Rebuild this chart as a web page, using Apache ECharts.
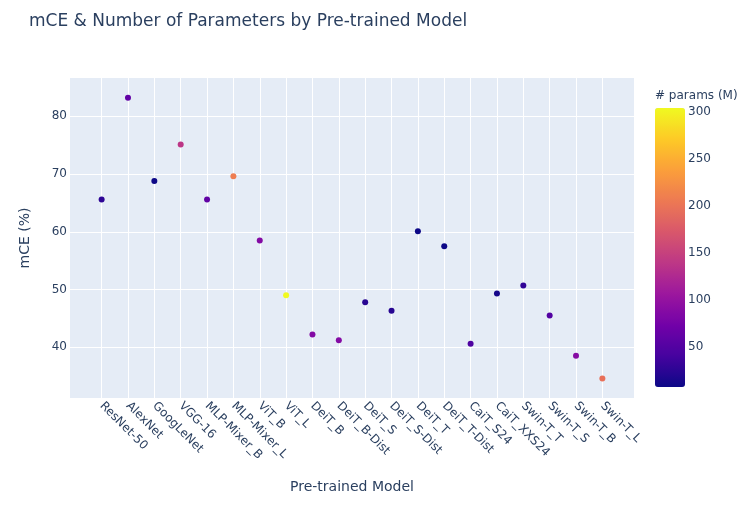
<!DOCTYPE html>
<html>
<head>
<meta charset="utf-8">
<title>mCE & Number of Parameters by Pre-trained Model</title>
<script src="https://cdn.jsdelivr.net/npm/echarts@6/dist/echarts.min.js"></script>
<style>
  html, body { margin: 0; padding: 0; background: #fff; }
  #chart { width: 755px; height: 510px; }
</style>
</head>
<body>
<div id="chart"></div>
<script>
// model names on the x axis
var models = [
  'ResNet-50', 'AlexNet', 'GoogLeNet', 'VGG-16', 'MLP-Mixer_B', 'MLP-Mixer_L',
  'ViT_B', 'ViT_L', 'DeiT_B', 'DeiT_B-Dist', 'DeiT_S', 'DeiT_S-Dist',
  'DeiT_T', 'DeiT_T-Dist', 'CaiT_S24', 'CaiT_XXS24', 'Swin-T_T', 'Swin-T_S',
  'Swin-T_B', 'Swin-T_L'
]
// mCE (%)
var mce = [
  65.6, 83.2, 68.8, 75.1, 65.6, 69.6,
  58.5, 49.0, 42.2, 41.2, 47.8, 46.3,
  60.1, 57.5, 40.6, 49.3, 50.7, 45.5,
  38.5, 34.6
]
// number of parameters (M), colour of each point
var params = [
  25.6, 61.1, 6.8, 138.4, 59.9, 208.2,
  86.6, 304.3, 86.6, 87.3, 22.1, 22.4,
  6.7, 6.9, 46.9, 12.0, 28.3, 49.6,
  87.8, 196.5
]
var yTicks = [40, 50, 60, 70, 80]
var cbTicks = [50, 100, 150, 200, 250, 300]

var textColor = '#2a3f5f'
var font = '"DejaVu Sans", Verdana, sans-serif'
var plasma = ['#0d0887', '#46039f', '#7201a8', '#9c179e', '#bd3786',
              '#d8576b', '#ed7953', '#fb9f3a', '#fdca26', '#f0f921']

var idx = models.map(function (m, i) { return i })
var points = models.map(function (m, i) { return [i, mce[i], params[i], m] })
var pMin = Math.min.apply(null, params)
var pMax = Math.max.apply(null, params)

var chart = echarts.init(document.getElementById('chart'), null, { renderer: 'canvas' })

var option = {
  backgroundColor: '#fff',
  textStyle: { fontFamily: font, color: textColor },
  title: [{
    text: 'mCE & Number of Parameters by Pre-trained Model',
    left: 29,
    top: 13,
    padding: 0,
    textStyle: { fontFamily: font, fontSize: 17, fontWeight: 'normal', color: textColor }
  }, {
    text: '# params (M)',
    left: 655,
    top: 90,
    padding: 0,
    textStyle: { fontFamily: font, fontSize: 12, fontWeight: 'normal', color: textColor }
  }],
  grid: [{
    left: 70, top: 78, width: 564, height: 320,
    show: true, backgroundColor: '#E5ECF6', borderWidth: 0
  }, {
    // helper grid that carries the colorbar ticks
    left: 655, top: 108, width: 30, height: 279,
    show: false
  }],
  xAxis: [{
    type: 'value',
    gridIndex: 0,
    min: -1.2,
    max: 20.2,
    name: 'Pre-trained Model',
    nameLocation: 'middle',
    nameGap: 82,
    nameTextStyle: { fontFamily: font, fontSize: 14, color: textColor },
    axisLine: { show: false },
    axisTick: { show: false, customValues: idx },
    axisLabel: {
      customValues: idx,
      rotate: -45,
      margin: 6,
      fontFamily: font,
      fontSize: 12,
      color: textColor,
      formatter: function (v) { return models[Math.round(v)] }
    },
    splitLine: { show: true, lineStyle: { color: '#fff', width: 1 } }
  }, {
    type: 'value', gridIndex: 1, show: false, min: 0, max: 1
  }],
  yAxis: [{
    type: 'value',
    gridIndex: 0,
    min: 31.2,
    max: 86.64,
    name: 'mCE (%)',
    nameLocation: 'middle',
    nameGap: 38,
    nameTextStyle: { fontFamily: font, fontSize: 14, color: textColor },
    axisLine: { show: false },
    axisTick: { show: false, customValues: yTicks },
    axisLabel: { customValues: yTicks, margin: 3, fontFamily: font, fontSize: 12, color: textColor },
    splitLine: { show: true, lineStyle: { color: '#fff', width: 1 } }
  }, {
    type: 'value',
    gridIndex: 1,
    position: 'right',
    min: pMin,
    max: pMax,
    axisLine: { show: false },
    axisTick: { show: false, customValues: cbTicks },
    axisLabel: { customValues: cbTicks, margin: 3, fontFamily: font, fontSize: 12, color: textColor },
    splitLine: { show: false }
  }],
  visualMap: {
    type: 'continuous',
    seriesIndex: 0,
    dimension: 2,
    min: pMin,
    max: pMax,
    left: 655,
    top: 108,
    itemWidth: 30,
    itemHeight: 279,
    padding: 0,
    calculable: false,
    hoverLink: false,
    text: null,
    showLabel: false,
    inRange: { color: plasma }
  },
  series: [{
    type: 'scatter',
    xAxisIndex: 0,
    yAxisIndex: 0,
    symbolSize: 6,
    itemStyle: { opacity: 1 },
    data: points
  }]
}

chart.setOption(option)
</script>
</body>
</html>
